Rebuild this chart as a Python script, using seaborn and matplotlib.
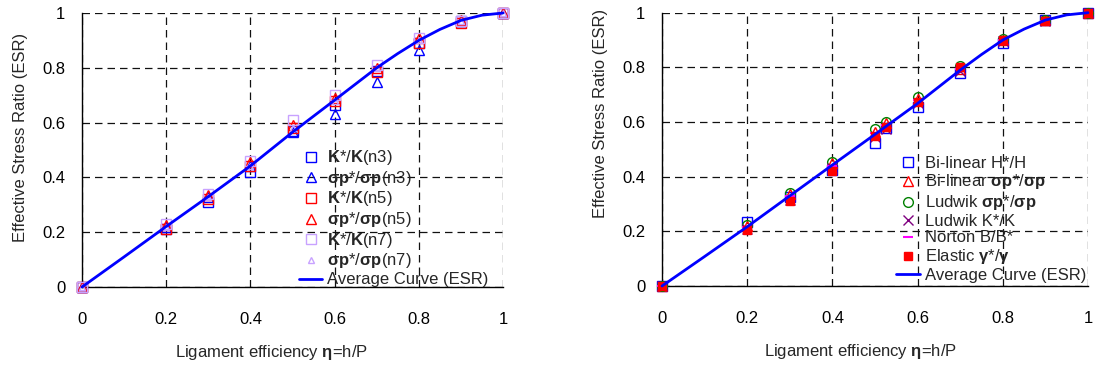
import matplotlib
matplotlib.use("Agg")
import matplotlib.pyplot as plt
import seaborn as sns

sns.set_style("white")
plt.rcParams["font.family"] = ["Liberation Sans Narrow", "Liberation Sans", "DejaVu Sans"]
plt.rcParams["mathtext.fontset"] = "custom"
plt.rcParams["mathtext.rm"] = "Liberation Sans"
plt.rcParams["mathtext.bf"] = "Liberation Sans:bold"
plt.rcParams["mathtext.it"] = "Liberation Sans:italic"

# ---- left panel: strain-hardening exponents ----
eta_left = [0.0, 0.2, 0.3, 0.4, 0.5, 0.6, 0.7, 0.8, 0.9, 1.0]
k_n3 = [0.0, 0.21, 0.31, 0.42, 0.57, 0.665, 0.79, 0.89, 0.97, 1.0]
sp_n3 = [0.0, 0.22, 0.33, 0.44, 0.567, 0.633, 0.749, 0.864, 0.97, 1.0]
k_n5 = [0.0, 0.21, 0.32, 0.44, 0.58, 0.68, 0.785, 0.89, 0.965, 1.0]
sp_n5 = [0.0, 0.225, 0.335, 0.455, 0.59, 0.69, 0.80, 0.91, 0.975, 1.0]
k_n7 = [0.0, 0.23, 0.34, 0.46, 0.61, 0.70, 0.81, 0.91, 0.97, 1.0]
sp_n7 = [0.0, 0.22, 0.33, 0.44, 0.58, 0.68, 0.80, 0.90, 0.97, 1.0]

# ---- right panel: material models ----
eta_right = [0.0, 0.2, 0.3, 0.4, 0.5, 0.525, 0.6, 0.7, 0.8, 0.9, 1.0]
bilin_h = [0.0, 0.235, 0.327, 0.424, 0.524, 0.577, 0.654, 0.78, 0.888, 0.973, 1.0]
bilin_sp = [0.0, 0.22, 0.335, 0.45, 0.565, 0.595, 0.685, 0.795, 0.90, 0.975, 1.0]
ludwik_sp = [0.0, 0.225, 0.34, 0.455, 0.575, 0.60, 0.69, 0.805, 0.905, 0.975, 1.0]
ludwik_k = [0.0, 0.21, 0.315, 0.43, 0.545, 0.575, 0.67, 0.785, 0.895, 0.97, 1.0]
norton_b = [0.0, 0.215, 0.33, 0.44, 0.56, 0.59, 0.68, 0.795, 0.90, 0.97, 1.0]
elastic_g = [0.0, 0.205, 0.31, 0.42, 0.55, 0.58, 0.675, 0.80, 0.90, 0.97, 1.0]

# ---- average ESR curves ----
eta_avg = [0.0, 0.1, 0.2, 0.3, 0.4, 0.5, 0.6, 0.7, 0.75, 0.8, 0.85, 0.9, 0.95, 1.0]
esr_avg_left = [0.0, 0.11, 0.221, 0.33, 0.442, 0.565, 0.682, 0.80, 0.852, 0.90, 0.94, 0.973, 0.992, 1.0]
esr_avg_right = [0.0, 0.108, 0.217, 0.33, 0.443, 0.555, 0.668, 0.79, 0.847, 0.90, 0.94, 0.973, 0.992, 1.0]

ticks = [0, 0.2, 0.4, 0.6, 0.8, 1.0]
tick_labels = ["0", "0.2", "0.4", "0.6", "0.8", "1"]

FS = 12
LEG_FS = 12
BLUE = "#0000ff"
RED = "#ff0000"
LAV = "#c8a2ff"
GREEN = "#008000"
PURPLE = "#800080"
MAGENTA = "#ff00ff"

fig = plt.figure(figsize=(10.95, 3.67), dpi=100)
ax1 = fig.add_axes([0.0749, 0.218, 0.3845, 0.7466])
ax2 = fig.add_axes([0.6046, 0.2207, 0.389, 0.7447])


def markers(ax, x, y, marker, color, label, ms=7, filled=False, mew=1.0):
    sns.lineplot(x=x, y=y, ax=ax, linestyle="none", marker=marker,
                 markersize=ms, markeredgecolor=color, markeredgewidth=mew,
                 markerfacecolor=color if filled else "none",
                 color=color, label=label, clip_on=False, errorbar=None,
                 sort=False, zorder=3)


def style_axis(ax, xlab_x, ylab_y):
    ax.set_xlim(0, 1)
    ax.set_ylim(0, 1)
    ax.set_xticks(ticks)
    ax.set_xticklabels(tick_labels)
    ax.set_yticks(ticks)
    ax.set_yticklabels(tick_labels)
    ax.grid(True, color="#111111", linestyle=(0, (6, 4)), linewidth=0.9)
    for side in ("top", "right"):
        ax.spines[side].set_visible(False)
    for side in ("left", "bottom"):
        ax.spines[side].set_color("black")
        ax.spines[side].set_linewidth(1.0)
    ax.tick_params(axis="both", direction="out", length=3, width=0.8,
                   color="black", labelsize=FS, labelcolor="black")
    ax.tick_params(axis="x", pad=18, length=0)
    ax.tick_params(axis="y", pad=9)
    ax.set_xlabel(r"Ligament efficiency $\mathbf{\eta}$=h/P", fontsize=FS)
    ax.set_ylabel("Effective Stress Ratio (ESR)", fontsize=FS)
    ax.xaxis.set_label_coords(xlab_x, -0.205)
    ax.yaxis.set_label_coords(-0.128, ylab_y)


def legend(ax, x0, y0):
    ax.legend(loc="lower left", bbox_to_anchor=(x0, y0), frameon=False,
              fontsize=LEG_FS, borderpad=0, borderaxespad=0, handlelength=1.4,
              handletextpad=0.3, labelspacing=0.1, handleheight=0.5)


# left panel
markers(ax1, eta_left, k_n3, "s", BLUE, r"$\mathbf{K}$*/$\mathbf{K}$(n3)")
markers(ax1, eta_left, sp_n3, "^", BLUE, r"$\mathbf{\sigma p}$*/$\mathbf{\sigma p}$(n3)")
markers(ax1, eta_left, k_n5, "s", RED, r"$\mathbf{K}$*/$\mathbf{K}$(n5)")
markers(ax1, eta_left, sp_n5, "^", RED, r"$\mathbf{\sigma p}$*/$\mathbf{\sigma p}$(n5)")
markers(ax1, eta_left, k_n7, "s", LAV, r"$\mathbf{K}$*/$\mathbf{K}$(n7)")
markers(ax1, eta_left, sp_n7, "^", LAV, r"$\mathbf{\sigma p}$*/$\mathbf{\sigma p}$(n7)", ms=5)
sns.lineplot(x=eta_avg, y=esr_avg_left, ax=ax1, color=BLUE, linewidth=2.0,
             label="Average Curve (ESR)", clip_on=False, errorbar=None, zorder=4)
style_axis(ax1, 0.451, 0.547)
legend(ax1, 0.515, 0.0)

# right panel
markers(ax2, eta_right, bilin_h, "s", BLUE, "Bi-linear H*/H")
markers(ax2, eta_right, bilin_sp, "^", RED, r"Bi-linear $\mathbf{\sigma p}$*/$\mathbf{\sigma p}$")
markers(ax2, eta_right, ludwik_sp, "o", GREEN, r"Ludwik $\mathbf{\sigma p}$*/$\mathbf{\sigma p}$")
markers(ax2, eta_right, ludwik_k, "x", PURPLE, "Ludwik K*/K")
markers(ax2, eta_right, norton_b, "_", MAGENTA, "Norton B/B*", mew=1.5)
markers(ax2, eta_right, elastic_g, "s", RED, r"Elastic $\mathbf{\gamma}$*/$\mathbf{\gamma}$", ms=6, filled=True)
sns.lineplot(x=eta_avg, y=esr_avg_right, ax=ax2, color=BLUE, linewidth=2.0,
             label="Average Curve (ESR)", clip_on=False, errorbar=None, zorder=4)
style_axis(ax2, 0.465, 0.63)
legend(ax2, 0.55, 0.012)

fig.savefig("out.png", dpi=100)
